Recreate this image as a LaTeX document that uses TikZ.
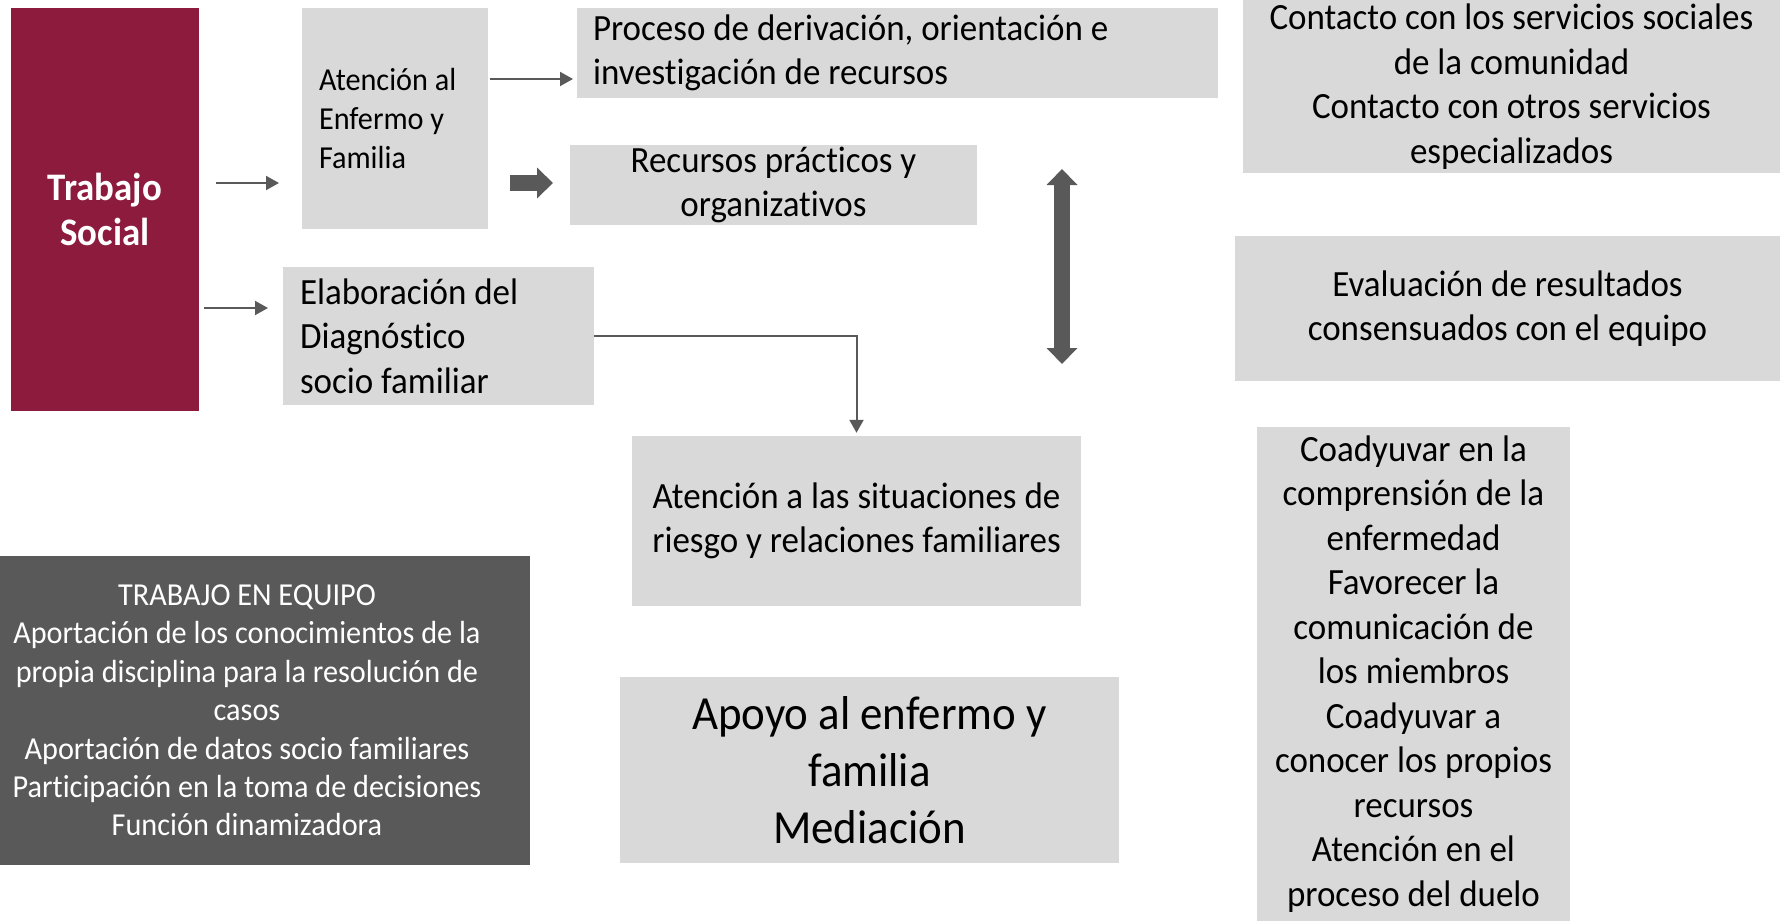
\documentclass[tikz,border=0pt]{standalone}
\usepackage{fontspec}
\setmainfont{Carlito}[FakeStretch=0.945, Ligatures=NoCommon]
\usetikzlibrary{arrows.meta}
\definecolor{vino}{HTML}{8C1B3E}
\definecolor{grisclaro}{HTML}{D9D9D9}
\definecolor{grisoscuro}{HTML}{595959}
\tikzset{
  caja/.style={fill=grisclaro, inner sep=0pt, align=center, font=\fontsize{37}{44.5}\selectfont},
  flecha/.style={draw=grisoscuro, line width=2pt, -{Triangle[length=13pt,width=14pt]}},
  gruesa/.style={draw=grisoscuro, line width=16pt, -{Triangle[length=16pt,width=30pt]}},
}
\begin{document}
\begin{tikzpicture}[x=1pt,y=-1pt]
				% Marco
				\useasboundingbox (0,0) rectangle (1780,921);
				\clip (0,0) rectangle (1780,921);
				
				% Cajas
				\node[caja, fill=vino, text=white, font=\bfseries\fontsize{39}{45}\selectfont,
				  minimum width=188pt, minimum height=403pt] (trabajo) at (105,209.5) {Trabajo\\Social};
				\node[caja, align=flush left, text width=152pt, font=\fontsize{32}{38.6}\selectfont,
				  minimum width=186pt, minimum height=221pt] (atencion) at (395,118.5)
				  {Atención al\\Enfermo y\\Familia};
				\node[caja, align=flush left, text width=609pt, minimum width=641pt, minimum height=90pt]
				  (proceso) at (897.5,53) {Proceso de derivación, orientación e\\investigación de recursos};
				\node[caja, minimum width=407pt, minimum height=80pt] (recursos) at (773.5,185)
				  {Recursos prácticos y\\organizativos};
				\node[caja, align=flush left, text width=277pt, minimum width=311pt, minimum height=138pt]
				  (diag) at (438.5,336) {Elaboración del\\Diagnóstico\\socio familiar};
				\node[caja, minimum width=537pt, minimum height=173pt] (contacto) at (1511.5,86.5)
				  {Contacto con los servicios sociales\\de la comunidad\\Contacto con otros servicios\\especializados};
				\node[caja, minimum width=545pt, minimum height=145pt] (evaluacion) at (1507.5,308.5)
				  {Evaluación de resultados\\consensuados con el equipo};
				\node[caja, minimum width=449pt, minimum height=170pt] (riesgo) at (856.5,521)
				  {Atención a las situaciones de\\riesgo y relaciones familiares};
				\node[caja, fill=grisoscuro, text=white, font=\fontsize{32}{38.4}\selectfont,
				  minimum width=566pt, minimum height=309pt] (equipo) at (247,710.5)
				  {TRABAJO EN EQUIPO\\Aportación de los conocimientos de la\\propia disciplina para la resolución de\\casos\\Aportación de datos socio familiares\\Participación en la toma de decisiones\\Función dinamizadora};
				\node[caja, font=\fontsize{47.5}{57}\selectfont, minimum width=499pt, minimum height=186pt]
				  (apoyo) at (869.5,770) {Apoyo al enfermo y\\familia\\Mediación};
				\node[caja, minimum width=313pt, minimum height=494pt] (coadyuvar) at (1413.5,674)
				  {Coadyuvar en la\\comprensión de la\\enfermedad\\Favorecer la\\comunicación de\\los miembros\\Coadyuvar a\\conocer los propios\\recursos\\Atención en el\\proceso del duelo};
				
				% Puntos de las flechas
				\coordinate (f1a) at (216,183);
				\coordinate (f1b) at (279,183);
				\coordinate (f2a) at (204,308);
				\coordinate (f2b) at (268,308);
				\coordinate (f3a) at (490,79);
				\coordinate (f3b) at (573,79);
				\coordinate (g1a) at (510,183);
				\coordinate (g1b) at (553,183);
				\coordinate (d1a) at (1062,169);
				\coordinate (d1b) at (1062,364);
				
				% Flechas
				\draw[flecha] (f1a) -- (f1b);
				\draw[flecha] (f2a) -- (f2b);
				\draw[flecha] (f3a) -- (f3b);
				\draw[flecha, shorten >=3pt] (diag.east) -| (riesgo.north);
				\draw[gruesa] (g1a) -- (g1b);
				\draw[gruesa, {Triangle[length=16pt,width=30pt]}-{Triangle[length=16pt,width=30pt]}] (d1a) -- (d1b);
				
\end{tikzpicture}
\end{document}
